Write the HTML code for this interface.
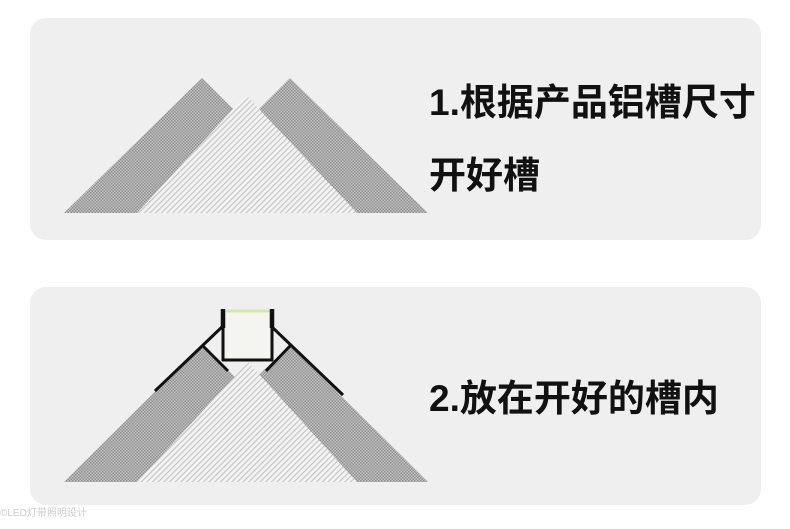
<!DOCTYPE html>
<html><head><meta charset="utf-8"><style>
html,body{margin:0;padding:0;background:#fff;}
svg{display:block}
text{font-family:"Liberation Sans","Noto Sans CJK SC",sans-serif;font-weight:bold;fill:#111;}
</style></head><body>
<svg width="790" height="529" viewBox="0 0 790 529" xmlns="http://www.w3.org/2000/svg">
<defs>
<pattern id="grid" width="3" height="3" patternUnits="userSpaceOnUse">
<rect width="3" height="3" fill="#c4c4c4"/><rect width="1.5" height="1.5" fill="#8e8e8e"/><rect x="1.5" y="1.5" width="1.5" height="1.5" fill="#8e8e8e"/>
</pattern>
<pattern id="hatch" width="4" height="4" patternUnits="userSpaceOnUse" patternTransform="rotate(45)">
<rect width="4" height="4" fill="#f4f4f4"/><rect width="1.3" height="4" fill="#c8c8c8"/>
</pattern>
</defs>
<rect x="30" y="18" width="731" height="222" rx="16" fill="#efefef"/>
<rect x="30" y="287" width="731" height="218" rx="16" fill="#efefef"/>
<!-- panel 1 -->
<polygon points="64,213 202,78 337,213" fill="url(#grid)"/>
<polygon points="155,213 290,78 428,213" fill="url(#grid)"/>
<polygon points="137,213 246,95 357,213" fill="url(#hatch)"/>
<text x="429" y="115" font-size="37" letter-spacing="0">1.根据产品铝槽尺寸</text>
<text x="429" y="188" font-size="37" letter-spacing="0">开好槽</text>
<!-- panel 2 -->
<polygon points="64,482 202,345 230,372 340,482" fill="url(#grid)"/>
<polygon points="428,482 290,345 262,372 152,482" fill="url(#grid)"/>
<polygon points="137,482 248,362 357,482" fill="url(#hatch)"/>
<rect x="226" y="309" width="44" height="51" fill="#f4f4f0"/>
<line x1="226" y1="311" x2="270" y2="311" stroke="#d6e6a8" stroke-width="3"/>
<g stroke="#111" stroke-width="3" fill="none">
<line x1="155" y1="391" x2="223" y2="326"/>
<line x1="202" y1="345" x2="228" y2="371"/>
<line x1="223" y1="309" x2="223" y2="361"/>
<line x1="222" y1="360" x2="273" y2="360"/>
<line x1="272" y1="309" x2="272" y2="361"/>
<line x1="272" y1="327" x2="343" y2="395"/>
<line x1="290" y1="346" x2="266" y2="371"/>
</g>
<line x1="223" y1="309" x2="223" y2="328" stroke="#111" stroke-width="4.5"/>
<line x1="272" y1="309" x2="272" y2="328" stroke="#111" stroke-width="4.5"/>
<text x="429" y="411" font-size="37" letter-spacing="0">2.放在开好的槽内</text>
<text x="0" y="516" font-size="10" style="font-weight:normal;fill:#ccc">©LED灯带照明设计</text>
</svg>
</body></html>
